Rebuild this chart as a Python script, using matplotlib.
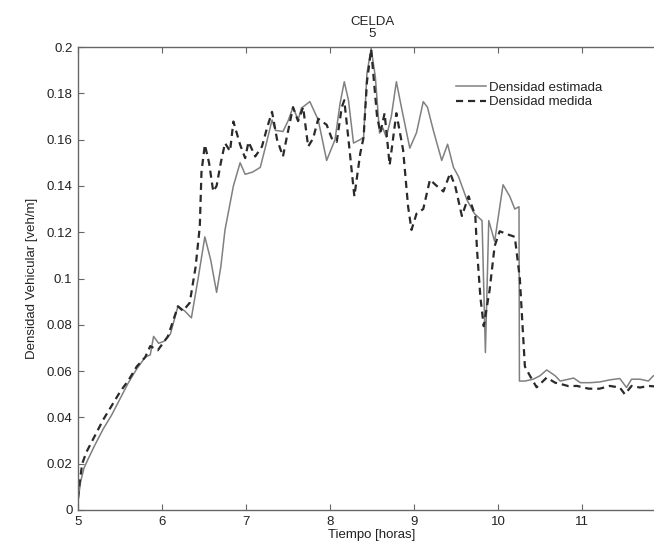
import matplotlib
matplotlib.use("Agg")
import matplotlib.pyplot as plt

plt.rcParams['font.family'] = ['Liberation Sans', 'DejaVu Sans']

# Density estimated (solid)
t_est = [5.00, 5.03, 5.07, 5.12, 5.20, 5.30, 5.40, 5.50, 5.60, 5.70, 5.80, 5.86,
         5.90, 5.96, 6.03, 6.10, 6.19, 6.27, 6.35, 6.43, 6.51, 6.58, 6.65, 6.70,
         6.75, 6.85, 6.93, 6.99, 7.08, 7.17, 7.24, 7.31, 7.35, 7.44, 7.50, 7.56,
         7.62, 7.66, 7.76, 7.86, 7.96, 8.06, 8.12, 8.17, 8.22, 8.28, 8.36, 8.40,
         8.44, 8.49, 8.54, 8.59, 8.63, 8.67, 8.73, 8.79, 8.85, 8.95, 9.03, 9.11,
         9.16, 9.23, 9.33, 9.40, 9.47, 9.53, 9.63, 9.72, 9.81, 9.85, 9.89, 9.96,
         10.06, 10.14, 10.20, 10.25, 10.255, 10.32, 10.42, 10.50, 10.58, 10.68,
         10.74, 10.84, 10.90, 10.98, 11.10, 11.21, 11.33, 11.45, 11.53, 11.59,
         11.69, 11.79, 11.85, 12.00]
d_est = [0.004, 0.012, 0.018, 0.022, 0.028, 0.035, 0.041, 0.048, 0.055, 0.061, 0.066, 0.067,
         0.075, 0.072, 0.073, 0.076, 0.088, 0.086, 0.083, 0.100, 0.118, 0.108, 0.094, 0.105,
         0.121, 0.140, 0.150, 0.145, 0.146, 0.148, 0.158, 0.1685, 0.164, 0.1635, 0.168, 0.174,
         0.1685, 0.1736, 0.1764, 0.1685, 0.151, 0.160, 0.1757, 0.185, 0.177, 0.1585, 0.160, 0.161,
         0.1887, 0.1994, 0.187, 0.1628, 0.165, 0.161, 0.170, 0.185, 0.174, 0.1563, 0.163, 0.1764,
         0.174, 0.164, 0.151, 0.158, 0.148, 0.144, 0.134, 0.128, 0.125, 0.068, 0.125, 0.116,
         0.1405, 0.1355, 0.130, 0.131, 0.0557, 0.0557, 0.0565, 0.058, 0.0605, 0.058,
         0.0557, 0.0565, 0.057, 0.055, 0.055, 0.0553, 0.0562, 0.0568, 0.0529, 0.0565,
         0.0565, 0.0557, 0.058, 0.058]

# Density measured (dashed)
t_med = [5.00, 5.02, 5.05, 5.10, 5.20, 5.30, 5.40, 5.50, 5.60, 5.70, 5.80, 5.86,
         5.95, 6.07, 6.19, 6.25, 6.33, 6.40, 6.45, 6.47, 6.51, 6.56, 6.61, 6.65,
         6.70, 6.75, 6.81, 6.85, 6.93, 6.99, 7.03, 7.11, 7.19, 7.25, 7.31, 7.37,
         7.44, 7.48, 7.56, 7.62, 7.68, 7.74, 7.80, 7.86, 7.96, 8.02, 8.08, 8.14,
         8.17, 8.22, 8.29, 8.36, 8.40, 8.44, 8.49, 8.56, 8.60, 8.65, 8.71, 8.79,
         8.87, 8.93, 8.97, 9.03, 9.11, 9.19, 9.27, 9.35, 9.43, 9.49, 9.57, 9.65,
         9.73, 9.75, 9.79, 9.83, 9.90, 9.96, 10.02, 10.12, 10.20, 10.26, 10.32,
         10.38, 10.46, 10.58, 10.68, 10.76, 10.84, 10.94, 11.08, 11.21, 11.33,
         11.45, 11.51, 11.59, 11.69, 11.79, 12.00]
d_med = [0.005, 0.012, 0.020, 0.025, 0.032, 0.039, 0.045, 0.051, 0.056, 0.062, 0.066, 0.0708,
         0.069, 0.075, 0.088, 0.086, 0.0895, 0.105, 0.1225, 0.146, 0.1578, 0.150, 0.1376, 0.140,
         0.150, 0.1585, 0.155, 0.1678, 0.1578, 0.152, 0.159, 0.1527, 0.157, 0.165, 0.172, 0.160,
         0.1527, 0.160, 0.174, 0.168, 0.174, 0.157, 0.1606, 0.169, 0.1664, 0.1606, 0.159, 0.174,
         0.177, 0.160, 0.1355, 0.154, 0.161, 0.185, 0.199, 0.170, 0.163, 0.1714, 0.149, 0.1714,
         0.1556, 0.131, 0.121, 0.128, 0.130, 0.1427, 0.140, 0.1376, 0.1455, 0.140, 0.127, 0.1355,
         0.127, 0.1125, 0.092, 0.0794, 0.095, 0.114, 0.1204, 0.119, 0.118, 0.100, 0.062,
         0.058, 0.053, 0.0572, 0.055, 0.0543, 0.0535, 0.0536, 0.0524, 0.0524, 0.0536,
         0.0529, 0.050, 0.0536, 0.0529, 0.0536, 0.053]

x_ticks = [5, 6, 7, 8, 9, 10, 11]
y_ticks = [0, 0.02, 0.04, 0.06, 0.08, 0.1, 0.12, 0.14, 0.16, 0.18, 0.2]
y_tick_labels = ['0', '0.02', '0.04', '0.06', '0.08', '0.1', '0.12', '0.14', '0.16', '0.18', '0.2']

fig = plt.figure(figsize=(6.54, 5.44), dpi=100)
ax = fig.add_axes([78/654, 34/544, 588/654, 463/544])

ax.plot(t_est, d_est, color='#808080', lw=1.1, label='Densidad estimada')
ax.plot(t_med, d_med, color='#2a2a2a', lw=1.6, linestyle=(0, (3.2, 2.2)), label='Densidad medida')

ax.set_xlim(5, 12)
ax.set_ylim(0, 0.2)
ax.set_xticks(x_ticks)
ax.set_yticks(y_ticks)
ax.set_yticklabels(y_tick_labels)

fs = 9.5
ax.tick_params(direction='in', length=4, width=0.8, colors='#666666',
               labelcolor='#222222', labelsize=fs, pad=4, top=True, right=True)
for s in ax.spines.values():
    s.set_color('#666666')
    s.set_linewidth(1.0)

ax.set_title('CELDA\n5', fontsize=fs, color='#222222', pad=7, linespacing=1.05)
ax.set_xlabel('Tiempo [horas]', fontsize=fs, color='#222222', labelpad=1)
ax.set_ylabel('Densidad Vehicular [veh/m]', fontsize=fs, color='#222222', labelpad=6)

leg = ax.legend(loc='upper left', bbox_to_anchor=(0.643, 0.925), frameon=False,
                fontsize=fs, handlelength=2.3, handletextpad=0.2, labelspacing=0.15,
                borderpad=0, borderaxespad=0)
for txt in leg.get_texts():
    txt.set_color('#222222')

fig.savefig('out.png', dpi=100)
